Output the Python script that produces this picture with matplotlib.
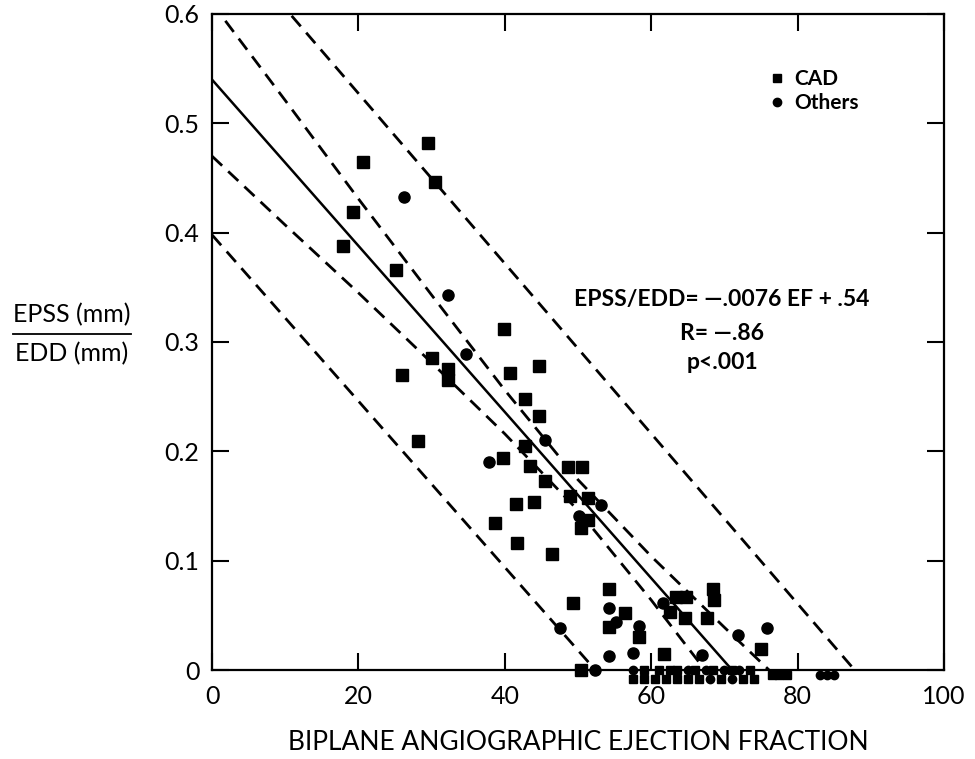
import matplotlib
matplotlib.use('Agg')
import matplotlib.pyplot as plt
from matplotlib.lines import Line2D
import numpy as np

plt.rcParams['font.family'] = ['Lato', 'DejaVu Sans']

# CAD patients (squares)
cad_ef = [29.5, 20.6, 30.5, 19.3, 17.9, 25.1, 39.9, 30.1, 26.0, 32.2, 32.2,
          44.7, 40.7, 42.7, 44.7, 28.1, 42.7, 39.8, 43.5, 48.6, 50.5, 45.5,
          48.9, 51.3, 41.5, 44.0, 51.4, 50.4, 38.7, 41.7, 46.4, 54.3, 49.3,
          63.4, 64.8, 56.4, 54.2, 58.4, 62.5, 64.6, 67.6, 68.5, 68.6, 75.0,
          61.8, 50.4]
cad_ratio = [0.482, 0.465, 0.446, 0.419, 0.388, 0.366, 0.312, 0.285, 0.270, 0.275, 0.265,
             0.278, 0.272, 0.248, 0.232, 0.209, 0.205, 0.194, 0.187, 0.186, 0.186, 0.173,
             0.159, 0.157, 0.152, 0.154, 0.137, 0.130, 0.134, 0.116, 0.106, 0.074, 0.061,
             0.067, 0.067, 0.052, 0.039, 0.030, 0.053, 0.048, 0.048, 0.074, 0.064, 0.019,
             0.015, 0.0]

# other patients (circles)
oth_ef = [26.2, 32.2, 34.7, 45.5, 37.8, 53.2, 50.2, 61.6, 54.2, 55.2, 47.5,
          58.4, 54.3, 57.5, 66.9, 71.9, 75.8, 52.3]
oth_ratio = [0.433, 0.343, 0.289, 0.210, 0.190, 0.151, 0.141, 0.061, 0.057, 0.044, 0.038,
             0.040, 0.013, 0.016, 0.014, 0.032, 0.038, 0.0]

# points piled up at zero (two rows under the axis)
cad_zero_ef = [59, 61, 62.5, 63.5, 66, 68.5, 71, 73.5,
               57.5, 59, 60.5, 62, 63.5, 65, 66.5, 69.5, 72.5, 74,
               76.5, 77.5, 78.5]
cad_zero_ratio = [0, 0, 0, 0, 0, 0, 0, 0,
                  -0.008, -0.008, -0.008, -0.008, -0.008, -0.008, -0.008, -0.008, -0.008, -0.008,
                  -0.005, -0.005, -0.005]
oth_zero_ef = [57.5, 65, 67.5, 70, 72, 68, 71, 83, 84, 85]
oth_zero_ratio = [0, 0, 0, 0, 0, -0.008, -0.008, -0.005, -0.005, -0.005]

# regression EPSS/EDD = -.0076 EF + .54
slope = -0.0076
intercept = 0.54
# outer (prediction) limits: intercept, slope
outer_upper = (0.683, -0.00778)
outer_lower = (0.398, -0.0076)
# inner (confidence) limits
band_ef = [0, 10, 20, 30, 40, 50, 60, 70, 80]
inner_upper = [0.610, 0.521, 0.431, 0.343, 0.256, 0.174, 0.104, 0.039, -0.025]
inner_lower = [0.470, 0.407, 0.345, 0.281, 0.216, 0.146, 0.064, -0.023, -0.11]

x_ticks = [0, 20, 40, 60, 80, 100]
x_labels = ['0', '20', '40', '60', '80', '100']
y_ticks = [0, 0.1, 0.2, 0.3, 0.4, 0.5, 0.6]
y_labels = ['0', '0.1', '0.2', '0.3', '0.4', '0.5', '0.6']

W, H = 975, 759
fig = plt.figure(figsize=(W / 100, H / 100), dpi=100)
ax = fig.add_axes([212 / W, 1 - 670 / H, 732 / W, 656 / H])

ef = np.array([0, 100])
ax.plot(ef, slope * ef + intercept, color='black', lw=1.8)
for b, m in (outer_upper, outer_lower):
    ax.plot(ef, m * ef + b, color='black', lw=2, dashes=(5, 3))
ax.plot(band_ef, inner_upper, color='black', lw=2, dashes=(5, 3))
ax.plot(band_ef, inner_lower, color='black', lw=2, dashes=(5, 3))

ax.plot(cad_ef, cad_ratio, 's', color='black', ms=8, clip_on=False)
ax.plot(oth_ef, oth_ratio, 'o', color='black', ms=8, clip_on=False)
ax.plot(cad_zero_ef, cad_zero_ratio, 's', color='black', ms=6, clip_on=False)
ax.plot(oth_zero_ef, oth_zero_ratio, 'o', color='black', ms=6, clip_on=False)

ax.set_xlim(0, 100)
ax.set_ylim(0, 0.6)
ax.set_xticks(x_ticks)
ax.set_xticklabels(x_labels)
ax.set_yticks(y_ticks)
ax.set_yticklabels(y_labels)
ax.tick_params(direction='in', length=12, width=1.5, top=True, right=True,
               labelsize=18, pad=9)
ax.tick_params(axis='x', pad=11)
for s in ax.spines.values():
    s.set_linewidth(1.6)

handles = [Line2D([], [], marker='s', ls='none', color='black', ms=6),
           Line2D([], [], marker='o', ls='none', color='black', ms=6)]
ax.legend(handles, ['CAD', 'Others'], loc='upper left', bbox_to_anchor=(0.735, 0.945),
          frameon=False, handletextpad=0.4, handlelength=0.8, labelspacing=0.2,
          prop={'size': 15, 'weight': 'bold'})

fig.text(722 / W, 1 - 300 / H, 'EPSS/EDD= \u2014.0076 EF + .54', ha='center', va='center',
         fontsize=16.5, fontweight='bold')
fig.text(722 / W, 1 - 334 / H, 'R= \u2014.86', ha='center', va='center',
         fontsize=16.5, fontweight='bold')
fig.text(722 / W, 1 - 362 / H, 'p<.001', ha='center', va='center',
         fontsize=16.5, fontweight='bold')

# y label as a fraction
fig.text(72 / W, 1 - 315 / H, 'EPSS (mm)', ha='center', va='center', fontsize=18)
fig.text(72 / W, 1 - 354 / H, 'EDD (mm)', ha='center', va='center', fontsize=18)
fig.add_artist(Line2D([13 / W, 131 / W], [1 - 334 / H, 1 - 334 / H], color='black',
                      lw=1.3, transform=fig.transFigure))

fig.text(578 / W, 1 - 742 / H, 'BIPLANE ANGIOGRAPHIC EJECTION FRACTION', ha='center',
         va='center', fontsize=19)

fig.savefig('out.png', dpi=100)
